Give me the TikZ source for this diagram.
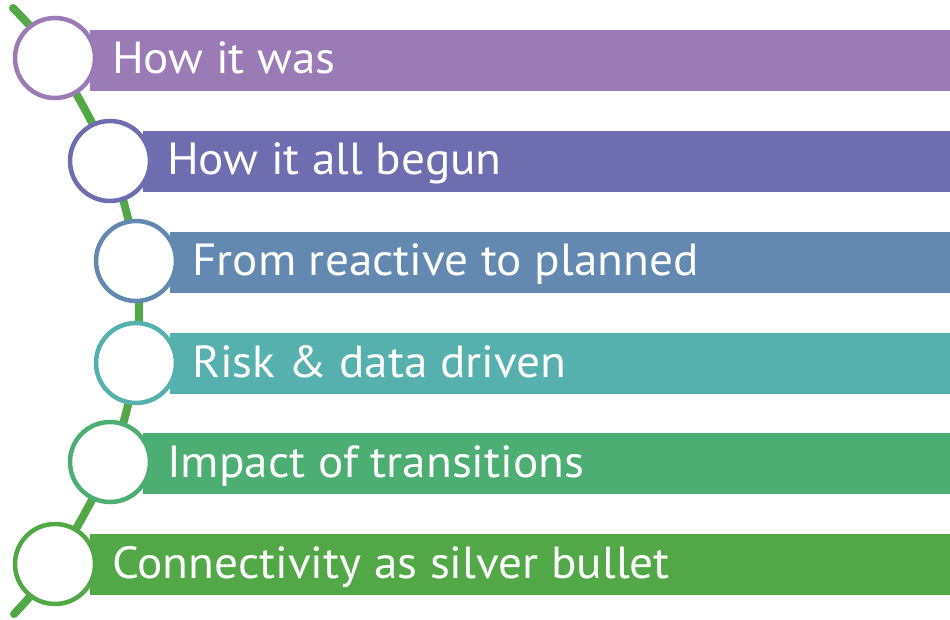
\documentclass[tikz,border=0pt]{standalone}
\usepackage{fontspec}
\setmainfont{PT Sans}[FakeStretch=1.05]
\definecolor{cA}{RGB}{154,123,181}
\definecolor{cB}{RGB}{110,109,175}
\definecolor{cC}{RGB}{99,137,177}
\definecolor{cD}{RGB}{85,176,174}
\definecolor{cE}{RGB}{77,174,115}
\definecolor{cF}{RGB}{82,168,70}
\definecolor{spine}{RGB}{82,168,70}
\begin{document}
\begin{tikzpicture}[x=1pt,y=-1pt,
  ring/.style={circle,draw=#1,fill=white,line width=4.5pt,minimum size=80pt,inner sep=0pt},
  lbl/.style={anchor=base west,text=white,font=\fontsize{45pt}{50pt}\selectfont,inner sep=0pt},
  barfill/.style={fill=#1}]
\useasboundingbox (0,0) rectangle (950,620);
% circle positions
\coordinate (p1) at (55,58);
\coordinate (p2) at (110,161);
\coordinate (p3) at (136,261);
\coordinate (p4) at (136,363);
\coordinate (p5) at (110,462);
\coordinate (p6) at (55,564);
\coordinate (top) at (13,8);
\coordinate (bot) at (14,614);
% spine
\draw[spine,line width=8pt,line cap=round] plot[smooth,tension=0.55] coordinates {(top) (p1) (p2) (p3) (p4) (p5) (p6) (bot)};
% bars
\fill[barfill=cA] (90,30) rectangle (950,91);
\fill[barfill=cB] (143,131) rectangle (950,192);
\fill[barfill=cC] (170,232) rectangle (950,293);
\fill[barfill=cD] (170,333) rectangle (950,394);
\fill[barfill=cE] (143,433) rectangle (950,494);
\fill[barfill=cF] (90,534) rectangle (950,595);
% circles
\node[ring=cA] (c1) at (p1) {};
\node[ring=cB] (c2) at (p2) {};
\node[ring=cC] (c3) at (p3) {};
\node[ring=cD] (c4) at (p4) {};
\node[ring=cE] (c5) at (p5) {};
\node[ring=cF] (c6) at (p6) {};
% labels
\node[lbl] (t1) at (112,74) {How it was};
\node[lbl] (t2) at (167,175) {How it all begun};
\node[lbl] (t3) at (192,276) {From reactive to planned};
\node[lbl] (t4) at (192,377) {Risk \& data driven};
\node[lbl] (t5) at (167,477) {Impact of transitions};
\node[lbl] (t6) at (112,578) {Connectivity as silver bullet};
\end{tikzpicture}
\end{document}
